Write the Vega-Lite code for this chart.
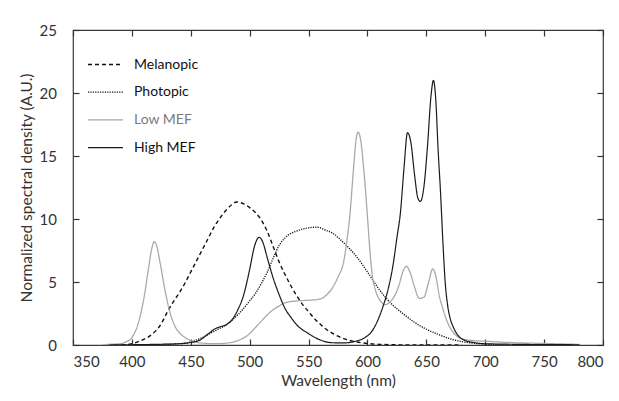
{
  "$schema": "https://vega.github.io/schema/vega-lite/v6.json",
  "autosize": {"type": "none"},
  "padding": {"left": 73, "top": 30, "right": 16, "bottom": 56},
  "width": 530,
  "height": 315,
  "background": "white",
  "config": {
    "font": "Lato",
    "view": {"stroke": "#3a3a3a", "strokeWidth": 1.2},
    "axis": {"grid": false, "domain": false, "ticks": true, "tickOpacity": 1, "tickColor": "#333333", "tickWidth": 1.2, "labelColor": "#333333", "titleColor": "#333333", "labelFontSize": 15, "titleFontSize": 15.5, "titleFontWeight": "normal", "labelFont": "Lato", "titleFont": "Lato"}
  },
  "data": {"values": [
    {"s":"Melanopic","w":385,"v":0.0},{"s":"Melanopic","w":395,"v":0.02},{"s":"Melanopic","w":400,"v":0.1},{"s":"Melanopic","w":405,"v":0.25},{"s":"Melanopic","w":410,"v":0.45},{"s":"Melanopic","w":415,"v":0.7},{"s":"Melanopic","w":420,"v":1.1},{"s":"Melanopic","w":425,"v":1.7},{"s":"Melanopic","w":430,"v":2.6},{"s":"Melanopic","w":435,"v":3.4},{"s":"Melanopic","w":440,"v":4.1},{"s":"Melanopic","w":445,"v":4.9},{"s":"Melanopic","w":450,"v":5.8},{"s":"Melanopic","w":455,"v":6.7},{"s":"Melanopic","w":460,"v":7.6},{"s":"Melanopic","w":465,"v":8.5},{"s":"Melanopic","w":470,"v":9.4},{"s":"Melanopic","w":475,"v":10.1},{"s":"Melanopic","w":480,"v":10.7},{"s":"Melanopic","w":485,"v":11.15},{"s":"Melanopic","w":489,"v":11.35},{"s":"Melanopic","w":495,"v":11.2},{"s":"Melanopic","w":500,"v":10.9},{"s":"Melanopic","w":505,"v":10.5},{"s":"Melanopic","w":510,"v":9.9},{"s":"Melanopic","w":515,"v":9.0},{"s":"Melanopic","w":520,"v":7.8},{"s":"Melanopic","w":525,"v":6.6},{"s":"Melanopic","w":530,"v":5.6},{"s":"Melanopic","w":535,"v":4.7},{"s":"Melanopic","w":540,"v":3.9},{"s":"Melanopic","w":545,"v":3.2},{"s":"Melanopic","w":550,"v":2.65},{"s":"Melanopic","w":555,"v":2.1},{"s":"Melanopic","w":560,"v":1.65},{"s":"Melanopic","w":565,"v":1.25},{"s":"Melanopic","w":570,"v":0.95},{"s":"Melanopic","w":575,"v":0.7},{"s":"Melanopic","w":580,"v":0.5},{"s":"Melanopic","w":590,"v":0.25},{"s":"Melanopic","w":600,"v":0.12},{"s":"Melanopic","w":610,"v":0.05},{"s":"Melanopic","w":630,"v":0.01},{"s":"Melanopic","w":680,"v":0.0},
    {"s":"Photopic","w":410,"v":0.0},{"s":"Photopic","w":440,"v":0.1},{"s":"Photopic","w":450,"v":0.25},{"s":"Photopic","w":460,"v":0.6},{"s":"Photopic","w":470,"v":1.1},{"s":"Photopic","w":480,"v":1.6},{"s":"Photopic","w":490,"v":2.4},{"s":"Photopic","w":500,"v":3.5},{"s":"Photopic","w":505,"v":4.1},{"s":"Photopic","w":510,"v":4.9},{"s":"Photopic","w":515,"v":5.8},{"s":"Photopic","w":520,"v":6.9},{"s":"Photopic","w":525,"v":7.9},{"s":"Photopic","w":530,"v":8.5},{"s":"Photopic","w":540,"v":9.05},{"s":"Photopic","w":550,"v":9.3},{"s":"Photopic","w":557,"v":9.35},{"s":"Photopic","w":565,"v":9.1},{"s":"Photopic","w":570,"v":8.9},{"s":"Photopic","w":580,"v":8.1},{"s":"Photopic","w":590,"v":7.1},{"s":"Photopic","w":600,"v":5.8},{"s":"Photopic","w":610,"v":4.4},{"s":"Photopic","w":620,"v":3.3},{"s":"Photopic","w":630,"v":2.5},{"s":"Photopic","w":640,"v":1.8},{"s":"Photopic","w":650,"v":1.25},{"s":"Photopic","w":660,"v":0.85},{"s":"Photopic","w":670,"v":0.5},{"s":"Photopic","w":680,"v":0.27},{"s":"Photopic","w":690,"v":0.14},{"s":"Photopic","w":700,"v":0.07},{"s":"Photopic","w":720,"v":0.02},
    {"s":"Low MEF","w":375,"v":0.0},{"s":"Low MEF","w":380,"v":0.05},{"s":"Low MEF","w":390,"v":0.1},{"s":"Low MEF","w":395,"v":0.25},{"s":"Low MEF","w":400,"v":0.6},{"s":"Low MEF","w":405,"v":1.6},{"s":"Low MEF","w":410,"v":3.6},{"s":"Low MEF","w":414,"v":6.0},{"s":"Low MEF","w":417,"v":7.7},{"s":"Low MEF","w":419,"v":8.2},{"s":"Low MEF","w":421,"v":7.9},{"s":"Low MEF","w":424,"v":6.5},{"s":"Low MEF","w":428,"v":4.4},{"s":"Low MEF","w":432,"v":2.7},{"s":"Low MEF","w":436,"v":1.6},{"s":"Low MEF","w":440,"v":1.0},{"s":"Low MEF","w":445,"v":0.6},{"s":"Low MEF","w":450,"v":0.35},{"s":"Low MEF","w":460,"v":0.15},{"s":"Low MEF","w":470,"v":0.1},{"s":"Low MEF","w":480,"v":0.15},{"s":"Low MEF","w":490,"v":0.35},{"s":"Low MEF","w":500,"v":0.9},{"s":"Low MEF","w":505,"v":1.4},{"s":"Low MEF","w":510,"v":1.9},{"s":"Low MEF","w":515,"v":2.4},{"s":"Low MEF","w":520,"v":2.8},{"s":"Low MEF","w":525,"v":3.1},{"s":"Low MEF","w":530,"v":3.35},{"s":"Low MEF","w":540,"v":3.5},{"s":"Low MEF","w":550,"v":3.55},{"s":"Low MEF","w":560,"v":3.65},{"s":"Low MEF","w":565,"v":3.95},{"s":"Low MEF","w":570,"v":4.5},{"s":"Low MEF","w":575,"v":5.4},{"s":"Low MEF","w":580,"v":6.7},{"s":"Low MEF","w":583,"v":8.6},{"s":"Low MEF","w":585,"v":10.2},{"s":"Low MEF","w":588,"v":13.8},{"s":"Low MEF","w":590.5,"v":16.4},{"s":"Low MEF","w":592,"v":16.9},{"s":"Low MEF","w":594,"v":16.4},{"s":"Low MEF","w":597,"v":13.8},{"s":"Low MEF","w":600,"v":10.2},{"s":"Low MEF","w":602,"v":7.6},{"s":"Low MEF","w":604,"v":5.6},{"s":"Low MEF","w":607,"v":4.3},{"s":"Low MEF","w":611,"v":3.5},{"s":"Low MEF","w":615,"v":3.2},{"s":"Low MEF","w":619,"v":3.4},{"s":"Low MEF","w":623,"v":3.9},{"s":"Low MEF","w":627,"v":4.8},{"s":"Low MEF","w":630,"v":5.8},{"s":"Low MEF","w":633,"v":6.25},{"s":"Low MEF","w":636,"v":5.8},{"s":"Low MEF","w":640,"v":4.6},{"s":"Low MEF","w":644,"v":3.7},{"s":"Low MEF","w":648,"v":3.8},{"s":"Low MEF","w":652,"v":5.0},{"s":"Low MEF","w":655.5,"v":6.05},{"s":"Low MEF","w":658,"v":5.5},{"s":"Low MEF","w":661,"v":3.9},{"s":"Low MEF","w":664,"v":2.9},{"s":"Low MEF","w":668,"v":1.8},{"s":"Low MEF","w":672,"v":1.1},{"s":"Low MEF","w":676,"v":0.7},{"s":"Low MEF","w":680,"v":0.5},{"s":"Low MEF","w":690,"v":0.35},{"s":"Low MEF","w":700,"v":0.3},{"s":"Low MEF","w":720,"v":0.2},{"s":"Low MEF","w":750,"v":0.12},{"s":"Low MEF","w":780,"v":0.05},
    {"s":"High MEF","w":380,"v":0.0},{"s":"High MEF","w":400,"v":0.02},{"s":"High MEF","w":420,"v":0.05},{"s":"High MEF","w":440,"v":0.1},{"s":"High MEF","w":450,"v":0.2},{"s":"High MEF","w":458,"v":0.4},{"s":"High MEF","w":465,"v":0.9},{"s":"High MEF","w":470,"v":1.25},{"s":"High MEF","w":475,"v":1.45},{"s":"High MEF","w":480,"v":1.6},{"s":"High MEF","w":485,"v":2.0},{"s":"High MEF","w":490,"v":2.8},{"s":"High MEF","w":495,"v":4.0},{"s":"High MEF","w":500,"v":6.0},{"s":"High MEF","w":504,"v":7.8},{"s":"High MEF","w":508,"v":8.55},{"s":"High MEF","w":511,"v":8.2},{"s":"High MEF","w":515,"v":6.9},{"s":"High MEF","w":520,"v":5.3},{"s":"High MEF","w":525,"v":4.0},{"s":"High MEF","w":530,"v":2.9},{"s":"High MEF","w":535,"v":2.2},{"s":"High MEF","w":540,"v":1.6},{"s":"High MEF","w":550,"v":0.9},{"s":"High MEF","w":560,"v":0.4},{"s":"High MEF","w":570,"v":0.18},{"s":"High MEF","w":580,"v":0.17},{"s":"High MEF","w":590,"v":0.3},{"s":"High MEF","w":598,"v":0.6},{"s":"High MEF","w":603,"v":1.0},{"s":"High MEF","w":608,"v":1.8},{"s":"High MEF","w":613,"v":3.0},{"s":"High MEF","w":618,"v":4.6},{"s":"High MEF","w":622,"v":6.5},{"s":"High MEF","w":625,"v":8.5},{"s":"High MEF","w":628,"v":10.5},{"s":"High MEF","w":631,"v":14.0},{"s":"High MEF","w":634,"v":16.85},{"s":"High MEF","w":637,"v":16.0},{"s":"High MEF","w":640,"v":13.5},{"s":"High MEF","w":643,"v":11.6},{"s":"High MEF","w":645,"v":11.4},{"s":"High MEF","w":648,"v":12.6},{"s":"High MEF","w":651,"v":15.8},{"s":"High MEF","w":654,"v":19.8},{"s":"High MEF","w":656,"v":21.0},{"s":"High MEF","w":658,"v":19.5},{"s":"High MEF","w":660,"v":15.5},{"s":"High MEF","w":662,"v":12.2},{"s":"High MEF","w":664,"v":8.3},{"s":"High MEF","w":666,"v":5.0},{"s":"High MEF","w":668,"v":3.2},{"s":"High MEF","w":670,"v":2.2},{"s":"High MEF","w":673,"v":1.4},{"s":"High MEF","w":677,"v":0.75},{"s":"High MEF","w":682,"v":0.4},{"s":"High MEF","w":690,"v":0.2},{"s":"High MEF","w":700,"v":0.1},{"s":"High MEF","w":730,"v":0.05},{"s":"High MEF","w":780,"v":0.02}
  ]},
  "layer": [
    {
      "mark": {"type": "line", "clip": true, "interpolate": "monotone"},
      "encoding": {
        "x": {"field": "w", "type": "quantitative", "title": "Wavelength (nm)", "scale": {"domain": [350, 800], "nice": false},
              "axis": {"values": [350,400,450,500,550,600,650,700,750,800], "offset": -6, "tickSize": 6, "labelPadding": 9, "titlePadding": 4}},
        "y": {"field": "v", "type": "quantitative", "title": "Normalized spectral density (A.U.)", "scale": {"domain": [0, 25], "nice": false},
              "axis": {"values": [0,5,10,15,20,25], "offset": -6, "tickSize": 6, "labelPadding": 16.5, "titlePadding": 5}},
        "color": {"field": "s", "type": "nominal", "scale": {"domain": ["Melanopic","Photopic","Low MEF","High MEF"], "range": ["#111111","#111111","#a8a8a8","#1a1a1a"]},
                  "legend": {"title": null, "orient": "none", "legendX": 14, "legendY": 16, "symbolType": "stroke", "symbolSize": 1225, "rowPadding": 1.7, "labelFontSize": 14, "labelFont": "Lato", "labelOffset": 10,
                    "encode": {"labels": {"update": {"fill": {"signal": "datum.label == 'Low MEF' ? '#7a7a7a' : '#111111'"}}}}}},
        "strokeDash": {"field": "s", "type": "nominal", "scale": {"domain": ["Melanopic","Photopic","Low MEF","High MEF"], "range": [[4,3],[1.2,1.2],[1,0],[1,0]]}},
        "strokeWidth": {"field": "s", "type": "ordinal", "scale": {"domain": ["Melanopic","Photopic","Low MEF","High MEF"], "range": [1.4,1.2,2.6,2.4]}}
      }
    },
    {
      "mark": {"type": "point", "opacity": 0},
      "encoding": {
        "x": {"field": "w", "type": "quantitative", "axis": {"orient": "top", "values": [350,400,450,500,550,600,650,700,750,800], "offset": -6, "tickSize": 6, "labels": false, "title": null}},
        "y": {"field": "v", "type": "quantitative", "axis": {"orient": "right", "values": [0,5,10,15,20,25], "offset": -6, "tickSize": 6, "labels": false, "title": null}}
      }
    }
  ],
  "resolve": {"axis": {"x": "independent", "y": "independent"}}
}
